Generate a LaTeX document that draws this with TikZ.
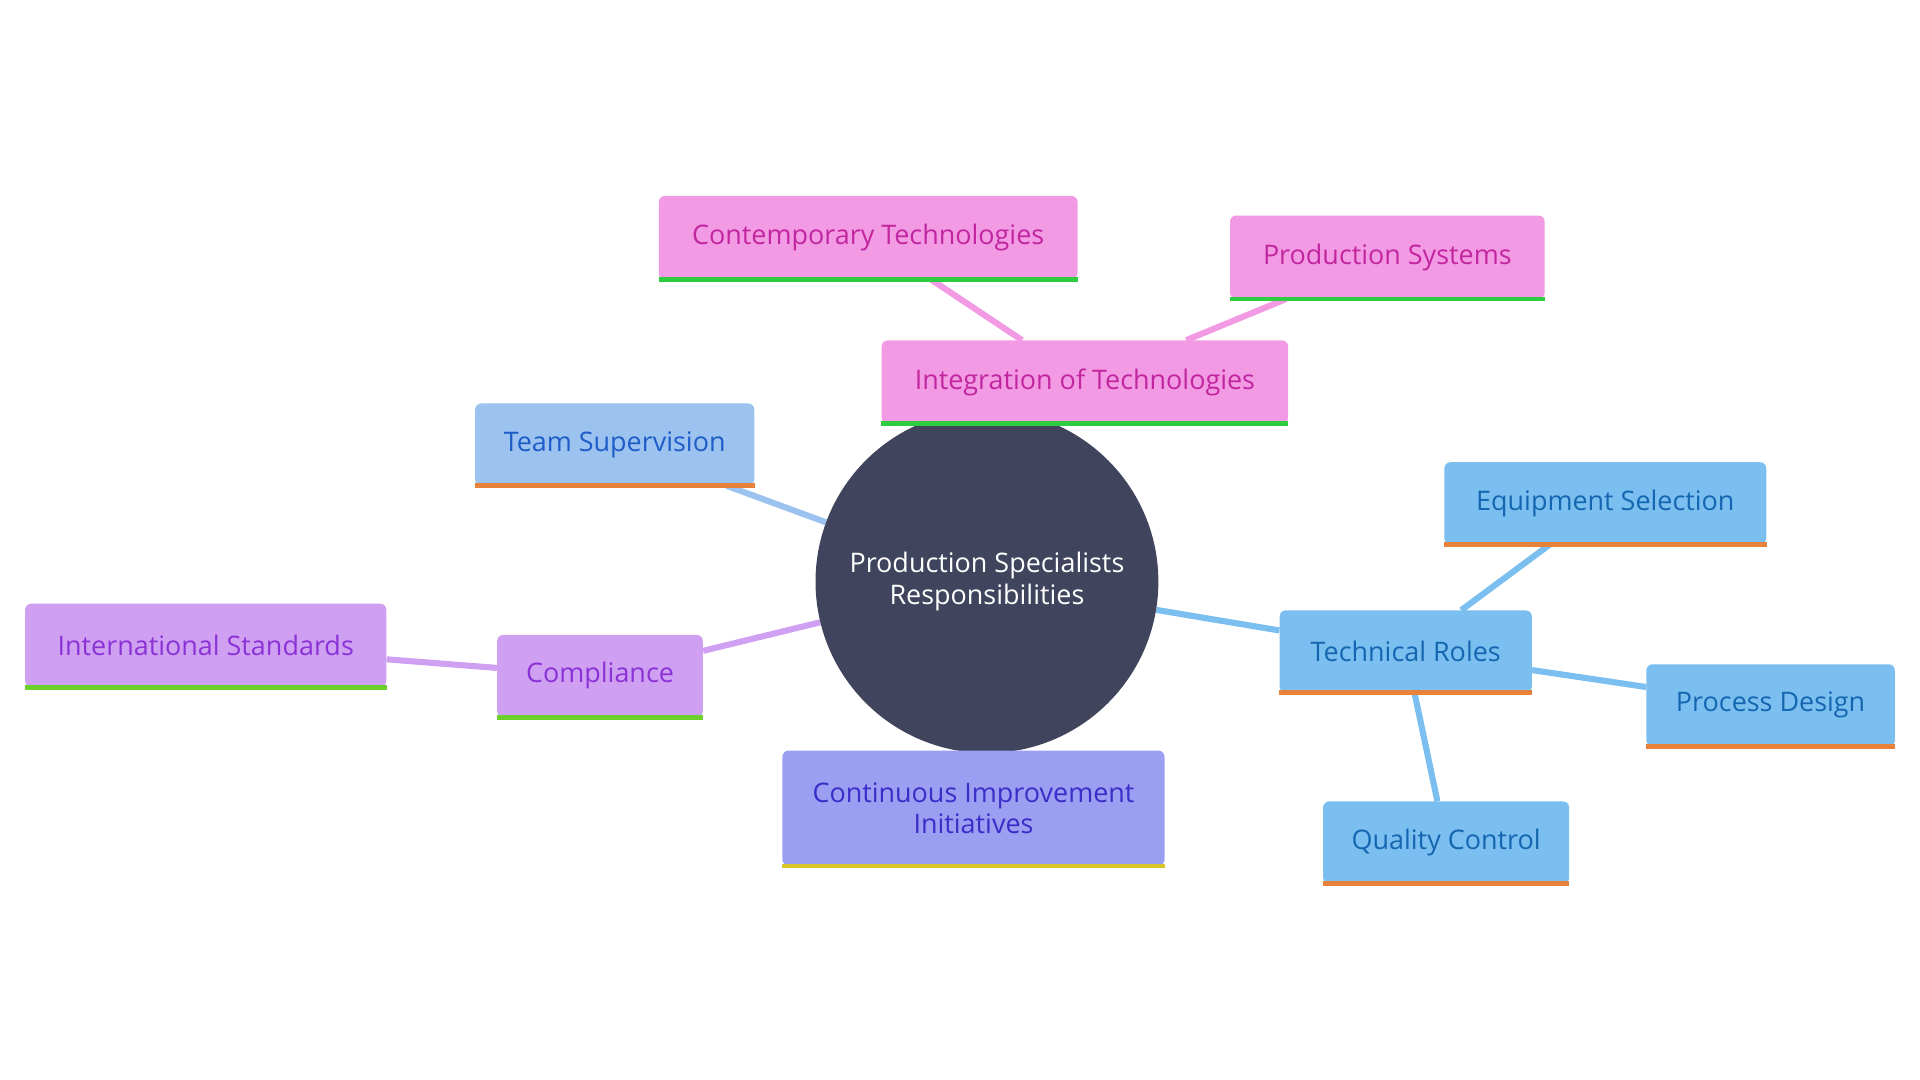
\documentclass[tikz,border=0pt]{standalone}
\usepackage{fontspec}
\setmainfont{Open Sans}
\usetikzlibrary{backgrounds}
\definecolor{hubfill}{HTML}{40445C}
\definecolor{pinkfill}{HTML}{F29AE4}\definecolor{pinktext}{HTML}{C2269F}
\definecolor{bluefill}{HTML}{7BBFF0}\definecolor{bluetext}{HTML}{1566B0}
\definecolor{teamfill}{HTML}{9CC3F0}\definecolor{teamtext}{HTML}{1E5CC8}
\definecolor{purpfill}{HTML}{CFA0F2}\definecolor{purptext}{HTML}{8B32D6}
\definecolor{ciifill}{HTML}{9B9FF2}\definecolor{ciitext}{HTML}{3A2DC8}
\definecolor{lgreen}{HTML}{2ECC40}\definecolor{lorange}{HTML}{E8823A}
\definecolor{llime}{HTML}{6CCF2A}\definecolor{lyellow}{HTML}{D6C62A}
\begin{document}
\begin{tikzpicture}[x=1pt,y=-1pt,
  box/.style={rectangle, rounded corners=5pt, inner sep=0pt, font=\fontsize{22}{26}\selectfont, align=center},
  hub/.style={circle, fill=hubfill, text=white, minimum size=280pt, inner sep=0pt, font=\fontsize{22}{26}\selectfont, align=center},
  link/.style={line width=5pt}]
    \useasboundingbox (0,0) rectangle (1568,882);
    \node[hub] (hub) at (806,475) {Production Specialists\\Responsibilities};
    % boxes: name/center/size/fill/text/line
    \foreach \n/\x/\y/\w/\h/\f/\t/\l/\s in {
      integ/886/312/332/68/pinkfill/pinktext/lgreen/Integration of Technologies,
      contemp/709/194/342/68/pinkfill/pinktext/lgreen/Contemporary Technologies,
      prodsys/1133/210/257/68/pinkfill/pinktext/lgreen/Production Systems,
      team/502/363/228/67/teamfill/teamtext/lorange/Team Supervision,
      compl/490/552/168/67/purpfill/purptext/llime/Compliance,
      intstd/168/527/295/68/purpfill/purptext/llime/International Standards,
      tech/1148/532/206/67/bluefill/bluetext/lorange/Technical Roles,
      equip/1311/411/263/67/bluefill/bluetext/lorange/Equipment Selection,
      procd/1446/576/203/67/bluefill/bluetext/lorange/Process Design,
      qual/1181/688/201/67/bluefill/bluetext/lorange/Quality Control}{
      \node[box, fill=\f, text=\t, minimum width=\w pt, minimum height=\h pt] (\n) at (\x,\y) {\s};
      \draw[\l, line width=4pt] (\n.south west) -- (\n.south east);
    }
    \node[box, fill=ciifill, text=ciitext, minimum width=312pt, minimum height=94pt] (cii) at (795,660) {Continuous Improvement\\Initiatives};
    \draw[lyellow, line width=4pt] (cii.south west) -- (cii.south east);
    \begin{scope}[on background layer]
    \draw[link, pinkfill] (integ) -- (contemp);
    \draw[link, pinkfill] (integ) -- (prodsys);
    \draw[link, teamfill] (hub) -- (team);
    \draw[link, purpfill] (hub) -- (compl);
    \draw[link, purpfill] (compl) -- (intstd);
    \draw[link, bluefill] (hub) -- (tech);
    \draw[link, bluefill] (tech) -- (equip);
    \draw[link, bluefill] (tech) -- (procd);
    \draw[link, bluefill] (tech) -- (qual);
    \end{scope}
\end{tikzpicture}
\end{document}
